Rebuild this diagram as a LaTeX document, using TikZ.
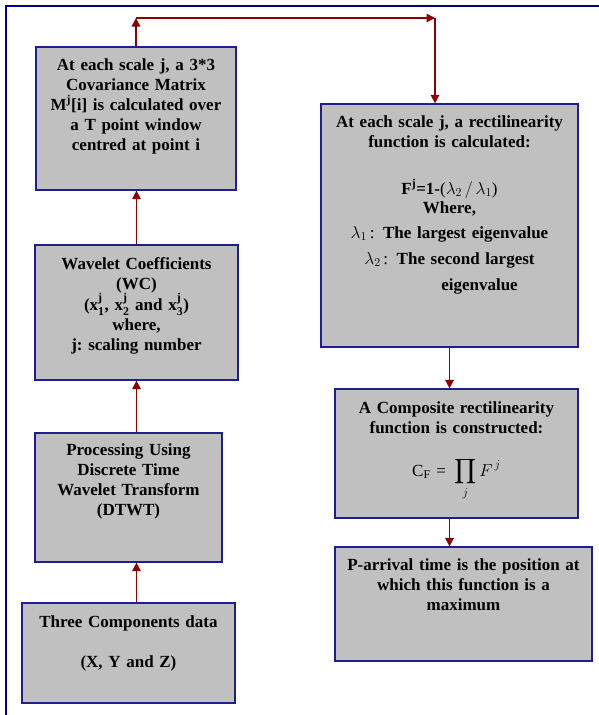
\documentclass[tikz,border=0pt]{standalone}
\usepackage{amsmath}
\usepackage{fontspec}
\setmainfont{Liberation Serif}
\usetikzlibrary{arrows.meta}
\definecolor{framenavy}{RGB}{0,0,128}
\definecolor{boxnavy}{RGB}{30,30,140}
\definecolor{boxgray}{RGB}{192,192,192}
\definecolor{flowred}{RGB}{139,0,0}
\newcommand{\wcx}[1]{x$^{\text{j}}_{\text{#1}}$}
\frenchspacing
\tikzset{
  box/.style={draw=boxnavy, fill=boxgray, line width=1.2pt, inner sep=0pt,
    align=center, font=\fontsize{17}{20}\selectfont\bfseries},
  flow/.style={flowred, line width=1.4pt}
}
\begin{document}
\begin{tikzpicture}[x=1pt, y=-1pt, >={Triangle[length=8.5pt,width=8.5pt]}]
    \useasboundingbox (0,0) rectangle (599,715);
    \draw[framenavy, line width=1.5pt] (599,6) -- (6,6) -- (6,715);
    \node[box, text width=200, text height=23, text depth=120] (cov) at (136,118.5)
      {At each scale j, a 3*3\\ Covariance Matrix\\ M\textsuperscript{j}[i] is calculated over\\ a T point window\\ centred at point i};
    \node[box, text width=203, text height=24, text depth=111] (wc) at (136.5,312.5)
      {Wavelet Coefficients\\ (WC)\\ (\wcx{1}, \wcx{2} and \wcx{3})\\ where,\\ j: scaling number};
    \node[box, text width=187, text height=22, text depth=107] (dtwt) at (128.5,497.5)
      {Processing Using\\ Discrete Time\\ Wavelet Transform\\ (DTWT)};
    \node[box, text width=213, text height=24, text depth=76] (three) at (128.5,653)
      {Three Components data\\[20pt] (X, Y and Z)};
    \node[box, text width=257, text height=23, text depth=220] (rect) at (449.5,225.5)
      {At each scale j, a rectilinearity\\ function is calculated:\\[27pt]
       F\textsuperscript{j}=1-{\mdseries(}$\lambda_2\,/\,\lambda_1${\mdseries)}\\[-1pt]
       Where,\\[5pt]
       $\lambda_1$\,{\mdseries:}\enspace The largest eigenvalue\\[6pt]
       $\lambda_2$\,{\mdseries:}\enspace The second largest\\[6pt]
       \hspace*{60pt}eigenvalue};
    \node[box, text width=243, text height=24, text depth=105] (comp) at (456.5,453.5)
      {A Composite rectilinearity\\ function is constructed:\\[23pt]
       {\mdseries C\textsubscript{F} =\enspace$\displaystyle\prod_{j} F^{\,j}$}};
    \node[box, text width=257, text height=23, text depth=91] (parr) at (463.5,604)
      {P-arrival time is the position at\\ which this function is a\\ maximum};
    \coordinate (up) at (136,18);
    \coordinate (over) at (435,18);
    \draw[flow,->] (three.north -| wc.south) -- (dtwt.south -| wc.south);
    \draw[flow,->] (dtwt.north -| wc.south) -- (wc.south);
    \draw[flow,->] (wc.north) -- (wc.north |- cov.south);
    \draw[flow,->] (cov.north) -- (up);
    \draw[flow,->] (up) -- (over);
    \draw[flow,->] (over) -- (over |- rect.north);
    \draw[flow,->] (rect.south) -- (rect.south |- comp.north);
    \draw[flow,->] (comp.south -| rect.south) -- (parr.north -| rect.south);
  \end{tikzpicture}
\end{document}
